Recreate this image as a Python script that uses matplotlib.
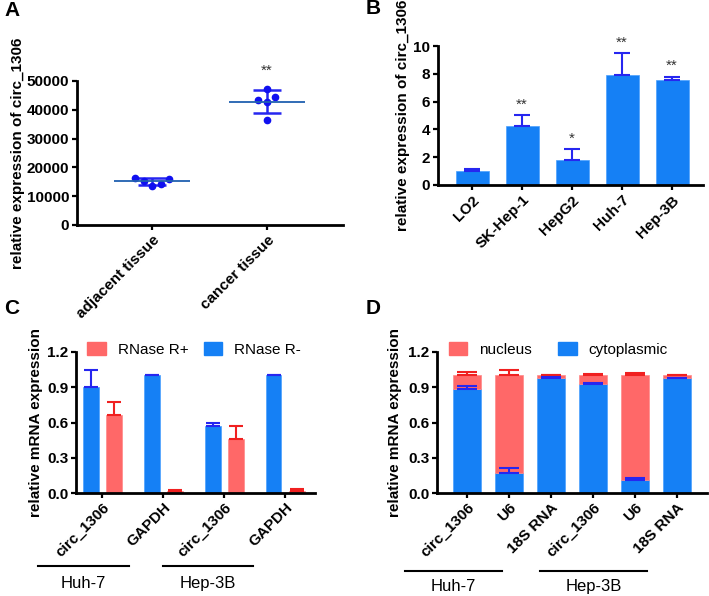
import numpy as np
import matplotlib
matplotlib.use("Agg")
from matplotlib import pyplot as plt
from matplotlib.patches import Patch

plt.rcParams['font.family'] = ['Liberation Sans', 'DejaVu Sans']

blue = "#1580f5"
red = "#ff6868"
eblue = "#2626f0"
ered = "#f02020"

# panel A
a_groups = ["adjacent tissue", "cancer tissue"]
a_adjacent = [16200, 15400, 13600, 14400, 16000]
a_cancer = [47300, 43400, 42700, 44300, 36600]
a_jit_adj = [-0.15, -0.07, 0.0, 0.08, 0.15]
a_jit_can = [0.0, -0.08, 0.0, 0.07, 0.0]

# panel B
b_cells = ["LO2", "SK-Hep-1", "HepG2", "Huh-7", "Hep-3B"]
b_vals = [1.0, 4.28, 1.77, 7.94, 7.59]
b_err = [0.15, 0.75, 0.80, 1.54, 0.21]
b_stars = ["", "**", "*", "**", "**"]

# panel C
c_genes = ["circ_1306", "GAPDH", "circ_1306", "GAPDH"]
c_minus = [0.90, 1.0, 0.567, 1.0]
c_minus_err = [0.147, 0.0, 0.033, 0.0]
c_plus = [0.667, 0.02, 0.46, 0.02]
c_plus_err = [0.11, 0.006, 0.107, 0.01]

# panel D
d_genes = ["circ_1306", "U6", "18S RNA", "circ_1306", "U6", "18S RNA"]
d_cyto = [0.889, 0.171, 0.98, 0.925, 0.109, 0.976]
d_cyto_err = [0.025, 0.043, 0.005, 0.015, 0.017, 0.005]
d_nuc_err = [0.026, 0.048, 0.008, 0.017, 0.02, 0.007]

cell_lines = ["Huh-7", "Hep-3B"]

fig = plt.figure(figsize=(7.09, 5.96), dpi=100)

def style(ax):
    for s in ["top", "right"]:
        ax.spines[s].set_visible(False)
    for s in ["left", "bottom"]:
        ax.spines[s].set_linewidth(2)
    ax.tick_params(width=1.6, length=3.6, pad=2)
    ax.tick_params(axis="y", labelsize=11)
    for lab in ax.get_yticklabels():
        lab.set_fontweight("bold")

def xlabels(ax, labels):
    ax.set_xticks(range(len(labels)))
    ax.set_xticklabels(labels, rotation=45, ha="right", rotation_mode="anchor",
                       fontweight="bold", fontsize=11)

def ylabel(ax, text, xpos):
    ax.set_ylabel(text, fontweight="bold", fontsize=11)
    ax.yaxis.set_label_coords(xpos, 0.5)

# ---- A
ax = fig.add_axes([0.1086, 0.6225, 0.3752, 0.2416])
for i, (vals, jit) in enumerate([(a_adjacent, a_jit_adj), (a_cancer, a_jit_can)]):
    x = [i + j for j in jit]
    ax.plot(x, vals, "o", color="#1010f0", ms=4.5, clip_on=False, zorder=3)
    m = np.mean(vals)
    sd = np.std(vals, ddof=1)
    ax.hlines(m, i - 0.33, i + 0.33, color="#2060b0", lw=1.3, zorder=4)
    ax.errorbar(i, m, yerr=sd, color=eblue, capsize=10, capthick=1.8, lw=1.8, zorder=2)
ax.text(1, 53500, "**", ha="center", va="center", fontsize=11, color="#333333")
ax.set_xlim(-0.652, 1.66)
ax.set_ylim(0, 50000)
ax.set_yticks(range(0, 50001, 10000))
xlabels(ax, a_groups)
ylabel(ax, "relative expression of circ_1306", -0.195)
style(ax)

# ---- B
ax = fig.add_axes([0.6178, 0.6896, 0.3738, 0.2332])
x = np.arange(len(b_cells))
ax.bar(x, b_vals, width=0.66, color=blue, edgecolor="#4aa0ff", lw=0.5)
ax.errorbar(x, b_vals, yerr=[np.zeros(len(b_vals)), b_err], fmt="none",
            ecolor=eblue, capsize=6, capthick=1.5, lw=1.5)
for i in range(len(b_cells)):
    if b_stars[i]:
        ax.text(i, b_vals[i] + b_err[i] + 0.75, b_stars[i], ha="center",
                va="center", fontsize=11, color="#333333")
ax.set_xlim(-0.68, 4.62)
ax.set_ylim(0, 10)
ax.set_yticks(range(0, 11, 2))
xlabels(ax, b_cells)
ylabel(ax, "relative expression of circ_1306", -0.106)
style(ax)

# ---- C
ax = fig.add_axes([0.1072, 0.1728, 0.3371, 0.2366])
x = np.arange(len(c_genes))
ax.bar(x - 0.19, c_minus, width=0.26, color=blue, edgecolor="#4aa0ff", lw=0.5)
ax.bar(x + 0.19, c_plus, width=0.26, color=red, edgecolor="#ff8888", lw=0.5)
ax.errorbar(x - 0.19, c_minus, yerr=[np.zeros(4), c_minus_err], fmt="none",
            ecolor=eblue, capsize=5, capthick=1.5, lw=1.5)
ax.errorbar(x + 0.19, c_plus, yerr=[np.zeros(4), c_plus_err], fmt="none",
            ecolor=ered, capsize=5, capthick=1.5, lw=1.5)
ax.set_xlim(-0.43, 3.49)
ax.set_ylim(0, 1.2)
ax.set_yticks([0, 0.3, 0.6, 0.9, 1.2])
ax.set_yticklabels(["0.0", "0.3", "0.6", "0.9", "1.2"])
xlabels(ax, c_genes)
ylabel(ax, "relative mRNA expression", -0.138)
ax.legend(handles=[Patch(color=red, label="RNase R+"), Patch(color=blue, label="RNase R-")],
          ncol=2, frameon=False, fontsize=11, loc="center", bbox_to_anchor=(0.494, 1.02),
          handlelength=1.2, handleheight=1.0, columnspacing=1.0)
style(ax)
tr = ax.get_xaxis_transform()
for (x0, x1), name in zip([(-1.05, 0.44), (1.0, 2.48)], cell_lines):
    ax.plot([x0, x1], [-0.52, -0.52], color="black", lw=1.5, transform=tr, clip_on=False)
    ax.text((x0 + x1) / 2, -0.64, name, ha="center", va="center", fontsize=12, transform=tr)

# ---- D
ax = fig.add_axes([0.6164, 0.1728, 0.3808, 0.2366])
x = np.arange(len(d_genes))
nuc = [1 - c for c in d_cyto]
ax.bar(x, d_cyto, width=0.68, color=blue, edgecolor="#4aa0ff", lw=0.5)
ax.bar(x, nuc, bottom=d_cyto, width=0.68, color=red, edgecolor="#ff8888", lw=0.5)
ax.errorbar(x, [1.0] * 6, yerr=[np.zeros(6), d_nuc_err], fmt="none",
            ecolor=ered, capsize=7, capthick=1.5, lw=1.5)
ax.errorbar(x, d_cyto, yerr=[np.zeros(6), d_cyto_err], fmt="none",
            ecolor=eblue, capsize=7, capthick=1.5, lw=1.5)
ax.set_xlim(-0.714, 5.71)
ax.set_ylim(0, 1.2)
ax.set_yticks([0, 0.3, 0.6, 0.9, 1.2])
ax.set_yticklabels(["0.0", "0.3", "0.6", "0.9", "1.2"])
xlabels(ax, d_genes)
ylabel(ax, "relative mRNA expression", -0.13)
ax.legend(handles=[Patch(color=red, label="nucleus"), Patch(color=blue, label="cytoplasmic")],
          ncol=2, frameon=False, fontsize=11, loc="center", bbox_to_anchor=(0.45, 1.02),
          handlelength=1.2, handleheight=1.0, columnspacing=1.7)
style(ax)
tr = ax.get_xaxis_transform()
for (x0, x1), name in zip([(-1.48, 0.83), (1.74, 4.29)], cell_lines):
    ax.plot([x0, x1], [-0.55, -0.55], color="black", lw=1.5, transform=tr, clip_on=False)
    ax.text((x0 + x1) / 2, -0.66, name, ha="center", va="center", fontsize=12, transform=tr)

for lab, px, py in [("A", 4, 10), ("B", 366, 8), ("C", 4, 308), ("D", 366, 308)]:
    fig.text(px / 709, 1 - py / 596, lab, fontsize=15, fontweight="bold", ha="left", va="center")

fig.savefig("out.png", dpi=100)
